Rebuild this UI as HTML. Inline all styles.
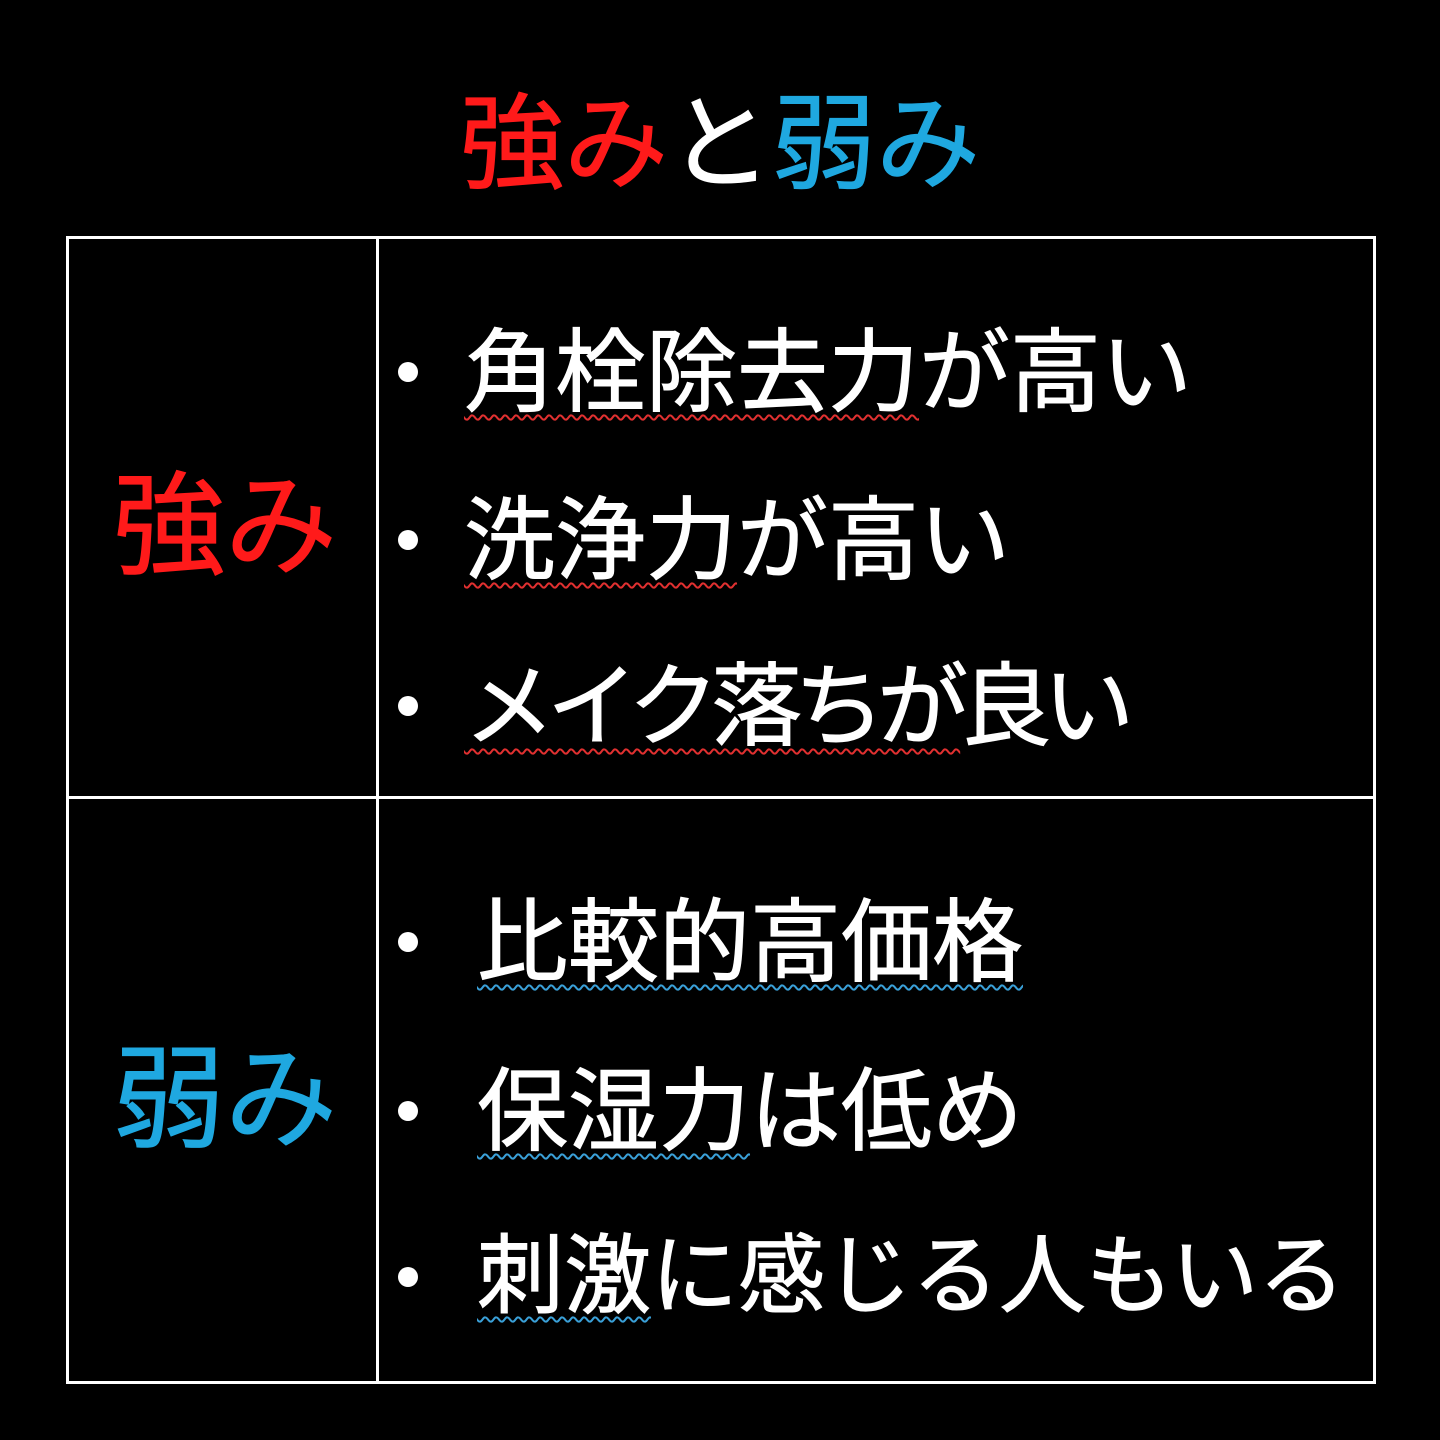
<!DOCTYPE html>
<html><head><meta charset="utf-8"><style>
body{margin:0;width:1440px;height:1440px;background:#000;position:relative;overflow:hidden;font-family:"Liberation Sans","Noto Sans CJK JP",sans-serif;}
.t{position:absolute;white-space:nowrap;line-height:1;-webkit-text-stroke:1px currentColor;}
.l{position:absolute;background:#fff;}
.b{position:absolute;width:20px;height:20px;border-radius:50%;background:#fff;}
.r{text-decoration:underline wavy #e03030;text-decoration-thickness:1.5px;text-underline-offset:10px;}
.u{text-decoration:underline wavy #3aa0d8;text-decoration-thickness:1.5px;text-underline-offset:10px;}
</style></head><body>
<div class="t" style="left:460px;top:93px;font-size:104px;"><span style="color:#ff1a1a">強み</span><span style="color:#fff">と</span><span style="color:#1fa8e0">弱み</span></div>

<div class="l" style="left:66px;top:236px;width:1310px;height:3px"></div>
<div class="l" style="left:66px;top:1381px;width:1310px;height:3px"></div>
<div class="l" style="left:66px;top:236px;width:3px;height:1148px"></div>
<div class="l" style="left:1373px;top:236px;width:3px;height:1148px"></div>
<div class="l" style="left:376px;top:236px;width:3px;height:1148px"></div>
<div class="l" style="left:66px;top:796px;width:1310px;height:3px"></div>

<div class="t" style="left:113px;top:471px;font-size:112px;color:#ff1a1a">強み</div>
<div class="t" style="left:113px;top:1044px;font-size:112px;color:#1fa8e0">弱み</div>

<div class="b" style="left:398px;top:362px"></div>
<div class="b" style="left:398px;top:530px"></div>
<div class="b" style="left:398px;top:696px"></div>
<div class="b" style="left:398px;top:932px"></div>
<div class="b" style="left:398px;top:1101px"></div>
<div class="b" style="left:398px;top:1267px"></div>

<div class="t" style="left:464px;top:328px;font-size:91px;color:#fff"><span class="r">角栓除去力</span>が高い</div>
<div class="t" style="left:464px;top:496px;font-size:91px;color:#fff"><span class="r">洗浄力</span>が高い</div>
<div class="t" style="left:464px;top:662px;font-size:91px;color:#fff;letter-spacing:-8px"><span class="r">メイク落ちが</span>良い</div>
<div class="t" style="left:477px;top:898px;font-size:91px;color:#fff"><span class="u">比較的高価格</span></div>
<div class="t" style="left:477px;top:1067px;font-size:91px;color:#fff"><span class="u">保湿力</span>は低め</div>
<div class="t" style="left:477px;top:1233px;font-size:87px;color:#fff"><span class="u">刺激</span>に感じる人もいる</div>
</body></html>
